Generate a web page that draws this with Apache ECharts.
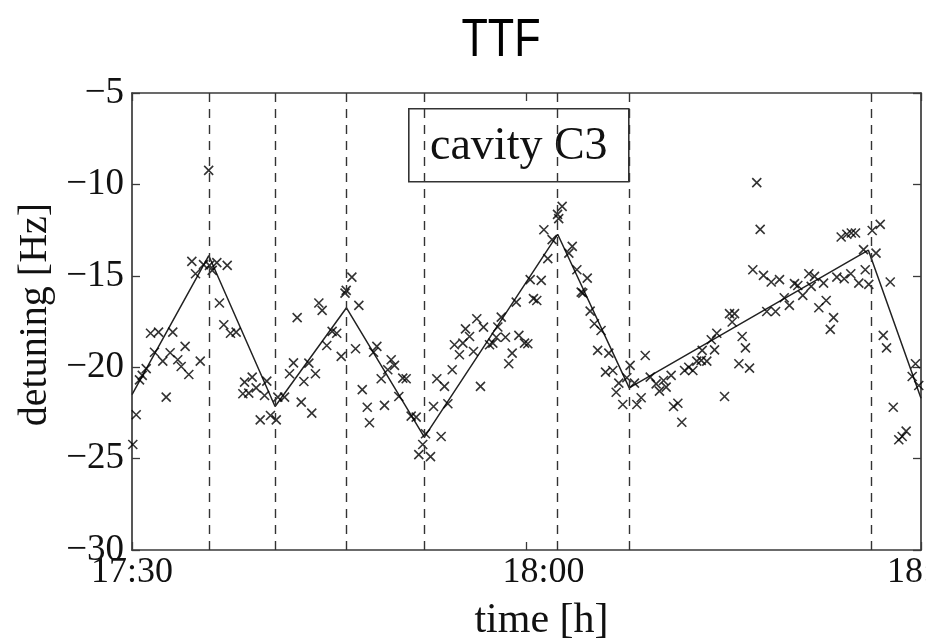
<!DOCTYPE html>
<html>
<head>
<meta charset="utf-8">
<script src="https://cdn.jsdelivr.net/npm/echarts@6/dist/echarts.min.js"></script>
<style>
html,body{margin:0;padding:0;background:#fff;}
#chart{width:926px;height:643px;}
</style>
</head>
<body>
<div id="chart"></div>
<script>
// minutes after 17:30
const xTickValues = [0, 30, 60];
const xTickLabels = ['17:30', '18:00', '18:30'];
const yTickValues = [-30, -25, -20, -15, -10, -5];
const yTickLabels = ['\u221230', '\u221225', '\u221220', '\u221215', '\u221210', '\u22125'];

// measured detuning (crosses)
const crossTime = [
5.83,4.55,5.44,4.83,5.89,6.10,6.45,7.24,6.65,6.98,7.49,7.92,3.10,1.41,2.02,1.71,2.34,2.90,4.04,3.48,3.74,4.32,5.19,1.08,0.78,0.57,2.60,0.32,0.06,
8.56,9.14,8.43,8.88,9.44,10.08,10.25,9.75,10.53,10.97,11.09,11.60,11.98,12.28,12.56,12.87,13.07,13.45,13.95,13.67,14.21,14.46,14.81,15.22,15.57,15.91,
16.29,16.72,16.20,17.25,17.00,18.62,18.37,17.51,17.89,18.06,19.20,18.95,19.71,19.96,19.45,20.59,20.85,20.29,21.23,21.61,22.32,22.11,21.81,22.70,23.51,
22.93,24.02,23.18,23.76,24.35,24.52,24.90,25.16,25.36,25.67,25.97,26.22,26.73,26.50,27.19,27.44,27.70,27.82,28.08,28.40,28.91,28.65,29.22,29.42,29.85,30.10,
30.53,30.78,30.28,31.12,31.62,31.32,31.95,32.45,32.71,32.36,33.48,33.22,33.83,34.62,34.16,34.28,34.84,35.16,35.67,35.41,36.26,36.01,36.56,37.02,36.82,
37.32,37.63,37.88,38.21,38.39,38.72,39.03,39.41,39.86,40.11,40.42,40.62,41.00,41.18,41.51,41.81,42.02,42.34,42.65,42.95,43.36,43.29,43.71,44.05,44.30,44.47,
45.06,45.44,45.82,45.64,46.40,46.65,46.15,46.96,47.51,47.77,47.21,48.02,48.61,49.24,48.27,48.94,49.60,49.99,50.38,50.63,51.01,51.47,51.90,51.65,52.23,
52.79,52.59,53.35,53.10,53.60,54.16,54.66,55.27,53.93,54.36,54.70,55.02,55.63,55.76,56.03,56.29,56.90,56.58,57.66,57.13,57.38,57.89,58.31,58.57,58.87,
59.58,59.33,59.83
];
const crossDetuning = [
-9.23,-14.21,-14.39,-14.89,-14.43,-14.70,-14.28,-14.43,-16.49,-17.68,-18.14,-18.08,-18.08,-18.14,-18.08,-19.18,-19.67,-19.21,-18.86,-19.59,-19.96,-20.40,-19.67,-20.08,-20.45,-20.69,-21.64,-22.60,-24.23,
-20.82,-20.54,-21.45,-21.42,-21.13,-21.55,-20.76,-22.88,-22.64,-22.88,-21.64,-21.64,-20.36,-19.76,-17.29,-21.91,-20.78,-19.78,-20.36,-22.51,-16.49,-16.89,-18.81,-18.04,-18.14,-19.41,
-15.80,-15.07,-15.95,-16.62,-18.99,-18.86,-19.18,-21.23,-22.19,-23.04,-22.09,-20.63,-19.59,-19.90,-20.14,-20.60,-20.63,-21.60,-22.68,-22.73,-23.64,-24.23,-24.78,-24.89,-23.79,
-22.15,-22.00,-20.63,-21.05,-20.14,-18.77,-19.32,-18.68,-17.90,-18.32,-19.14,-17.35,-17.81,-21.05,-18.77,-18.68,-18.36,-17.80,-17.26,-18.36,-19.23,-19.81,-16.44,-18.26,-18.68,-18.72,
-16.25,-16.35,-15.21,-15.25,-14.06,-12.48,-13.02,-11.87,-11.20,-11.64,-13.39,-13.76,-14.67,-15.13,-15.89,-15.95,-16.93,-17.62,-17.99,-19.08,-19.23,-20.27,-20.18,-20.87,-21.37,
-22.04,-20.58,-19.90,-20.87,-22.04,-21.67,-19.36,-20.54,-20.91,-21.31,-20.73,-21.09,-20.45,-22.15,-21.97,-23.01,-20.18,-20.00,-20.18,-19.67,-19.08,-19.63,-19.67,-18.50,-19.05,-18.14,
-21.60,-17.07,-17.07,-17.53,-18.32,-18.94,-19.81,-20.05,-9.90,-12.46,-14.67,-14.98,-15.34,-15.21,-16.95,-16.95,-16.20,-16.62,-15.43,-15.53,-16.07,-14.89,-15.03,-15.58,-16.75,
-16.35,-15.40,-17.29,-17.93,-15.07,-15.16,-14.89,-15.40,-12.88,-12.73,-12.66,-12.66,-13.57,-14.67,-15.47,-12.52,-12.19,-13.76,-15.34,-18.26,-18.94,-22.19,-23.97,-23.79,-23.50,
-19.81,-20.51,-21.00
];

// piecewise linear fit (solid line)
const fitTime = [0, 5.84, 10.88, 16.31, 22.23, 32.37, 37.81, 56.0, 60];
const fitDetuning = [-21.5, -13.9, -22.15, -16.75, -23.83, -12.73, -21.13, -13.6, -21.7];

// dashed vertical markers (minutes after 17:30)
const dashTimes = [5.84, 10.88, 16.31, 22.23, 32.37, 37.81, 56.21];

const serif = 'Liberation Serif';
const axisColor = '#3a3a3a';

const chart = echarts.init(document.getElementById('chart'), null, {renderer: 'canvas'});

const crossData = crossTime.map((t, i) => [t, crossDetuning[i]]);
const fitData = fitTime.map((t, i) => [t, fitDetuning[i]]);

// label style keys per tick (shift of the printed label relative to its tick)
const xLabelStyleKey = ['a', 'b', 'c'];
function xLabel(v) {
  const i = xTickValues.indexOf(v);
  return i >= 0 ? '{' + xLabelStyleKey[i] + '|' + xTickLabels[i] + '}' : '';
}
function yLabel(v) {
  const i = yTickValues.indexOf(v);
  return i >= 0 ? yTickLabels[i] : '';
}
const xLabFont = {fontFamily: serif, fontSize: 36, color: '#111'};

const commonX = {
  type: 'value', min: 0, max: 60, interval: 30,
  axisLine: {show: true, onZero: false, lineStyle: {color: axisColor, width: 1.7}},
  axisTick: {show: true, inside: true, length: 8, lineStyle: {color: axisColor, width: 1.3}},
  splitLine: {show: false}
};
const commonY = {
  type: 'value', min: -30, max: -5, interval: 5,
  axisLine: {show: true, onZero: false, lineStyle: {color: axisColor, width: 1.7}},
  axisTick: {show: true, inside: true, length: 8, lineStyle: {color: axisColor, width: 1.3}},
  splitLine: {show: false}
};

chart.setOption({
  animation: false,
  backgroundColor: '#ffffff',
  grid: {left: 132, top: 93, width: 789, height: 457, containLabel: false, outerBoundsMode: 'none'},
  xAxis: [
    Object.assign({}, commonX, {
      position: 'bottom',
      axisLabel: {
        formatter: xLabel, margin: 5, fontFamily: serif, fontSize: 36, color: '#111',
        rich: {
          a: Object.assign({padding: [0, 0, 0, 0]}, xLabFont),
          b: Object.assign({padding: [0, 0, 0, 34]}, xLabFont),
          c: Object.assign({padding: [0, 0, 0, 14]}, xLabFont)
        }
      },
      name: 'time [h]', nameLocation: 'middle', nameGap: 50,
      nameTextStyle: {fontFamily: serif, fontSize: 42, color: '#111', padding: [0, 0, 0, 30]}
    }),
    Object.assign({}, commonX, {position: 'top', axisLabel: {show: false}})
  ],
  yAxis: [
    Object.assign({}, commonY, {
      position: 'left',
      axisLabel: {formatter: yLabel, fontFamily: serif, fontSize: 37, color: '#111', margin: 8},
      name: 'detuning [Hz]', nameLocation: 'middle', nameGap: 76, nameRotate: 90,
      nameTextStyle: {fontFamily: serif, fontSize: 40, color: '#111', padding: [0, 0, 0, 14]}
    }),
    Object.assign({}, commonY, {position: 'right', axisLabel: {show: false}})
  ],
  graphic: [
    {
      type: 'text', x: 501, y: 41, scaleX: 0.8,
      style: {text: 'TTF', font: '54px "Liberation Sans"', fill: '#000', textAlign: 'center', textVerticalAlign: 'middle'},
      z: 100
    },
    {
      type: 'group', left: 408, top: 108, z: 100,
      children: [
        {type: 'rect', shape: {x: 0, y: 0, width: 220, height: 73},
         style: {fill: '#fff', stroke: '#333', lineWidth: 1.6}},
        {type: 'text', x: 110, y: 38,
         style: {text: 'cavity C3', font: '46px "Liberation Serif"', fill: '#111', textAlign: 'center', textVerticalAlign: 'middle'}}
      ]
    }
  ],
  series: [
    {
      type: 'line', data: fitData, xAxisIndex: 0, yAxisIndex: 0,
      symbol: 'none', lineStyle: {color: '#222', width: 1.5}, z: 3,
      markLine: {
        silent: true, symbol: ['none', 'none'], label: {show: false},
        lineStyle: {color: '#333', width: 1.4, type: [9, 7]},
        data: dashTimes.map(t => ({xAxis: t}))
      }
    },
    {
      type: 'scatter', data: crossData, xAxisIndex: 0, yAxisIndex: 0,
      symbol: 'path://M0,0L10,10M10,0L0,10', symbolSize: 9,
      itemStyle: {color: 'none', borderColor: '#000', borderWidth: 1.6}, z: 4
    }
  ]
});
</script>
</body>
</html>
